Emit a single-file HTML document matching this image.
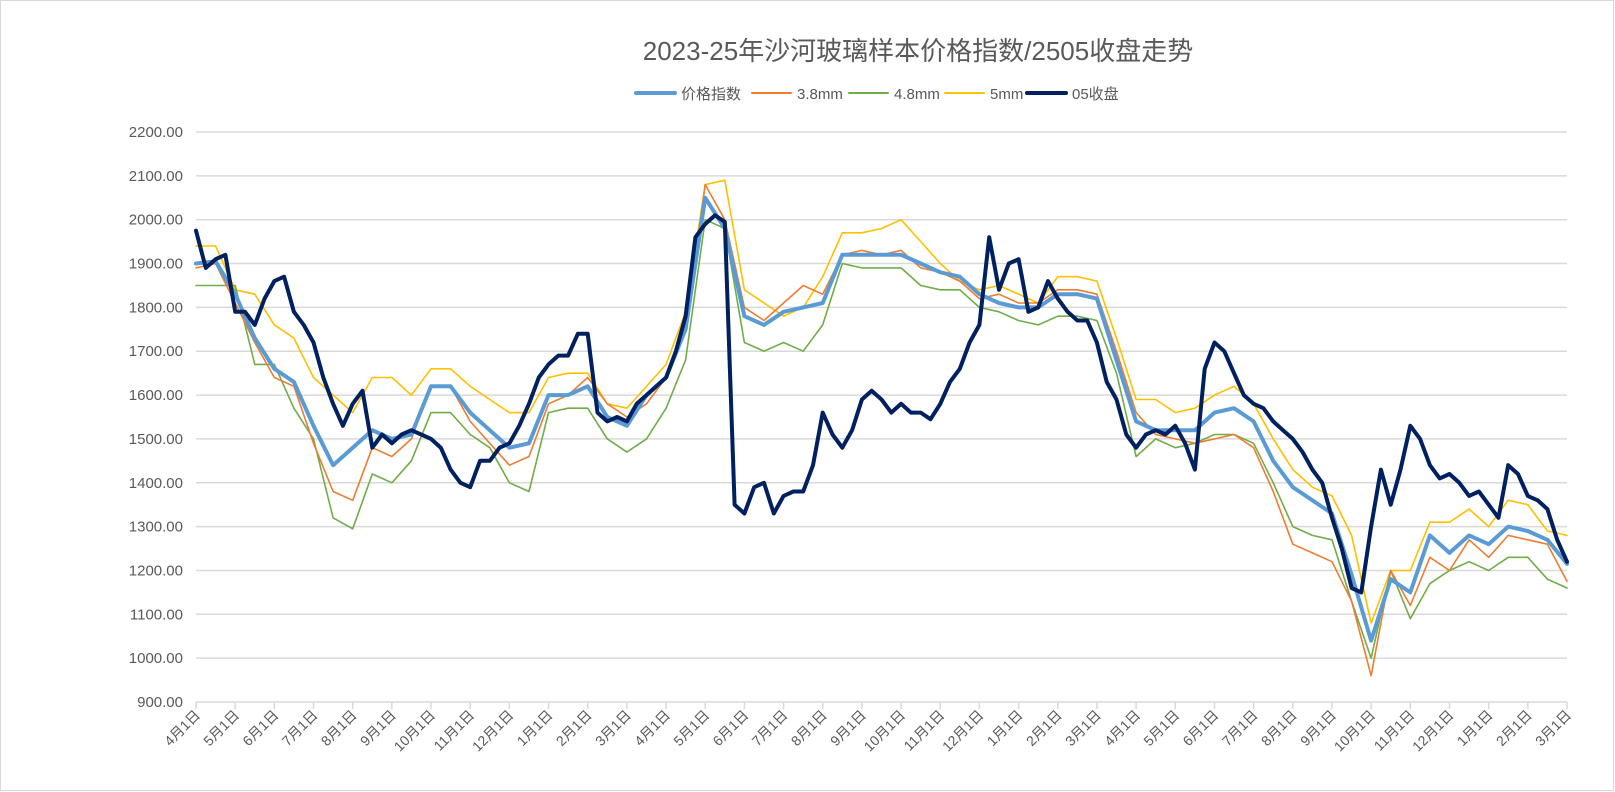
<!DOCTYPE html>
<html><head><meta charset="utf-8">
<style>
html,body{margin:0;padding:0;background:#fff;}
svg{display:block;font-family:"Liberation Sans","Noto Sans CJK SC",sans-serif;}
</style></head>
<body>
<svg id="chart" width="1615" height="792" viewBox="0 0 1615 792">
<rect x="0.5" y="0.5" width="1613" height="790" fill="#fff" stroke="#d9d9d9"/>
<text x="918" y="60" text-anchor="middle" font-size="26" fill="#595959">2023-25年沙河玻璃样本价格指数/2505收盘走势</text>
<g id="grid"></g>
<g id="yaxis"></g>
<g id="xaxis"></g>
<g id="series"></g>
<g id="legend"></g>
</svg>
<script>
const monthLabels=["4月1日","5月1日","6月1日","7月1日","8月1日","9月1日","10月1日","11月1日","12月1日","1月1日","2月1日","3月1日","4月1日","5月1日","6月1日","7月1日","8月1日","9月1日","10月1日","11月1日","12月1日","1月1日","2月1日","3月1日","4月1日","5月1日","6月1日","7月1日","8月1日","9月1日","10月1日","11月1日","12月1日","1月1日","2月1日","3月1日"];
const yTicks=[900,1000,1100,1200,1300,1400,1500,1600,1700,1800,1900,2000,2100,2200];
// half-month samples
const indexVals=[1900,1905,1830,1730,1660,1630,1530,1440,1480,1520,1500,1510,1620,1620,1560,1520,1480,1490,1600,1600,1620,1550,1530,1600,1640,1750,2050,1980,1780,1760,1790,1800,1810,1920,1920,1920,1920,1900,1880,1870,1830,1810,1800,1800,1830,1830,1820,1680,1540,1520,1520,1520,1560,1570,1540,1450,1390,1360,1330,1190,1040,1180,1150,1280,1240,1280,1260,1300,1290,1270,1215];
const mm38Vals=[1890,1900,1810,1720,1640,1620,1490,1380,1360,1480,1460,1500,1620,1620,1540,1490,1440,1460,1580,1600,1640,1580,1550,1580,1640,1750,2080,2000,1800,1770,1810,1850,1830,1920,1930,1920,1930,1890,1880,1860,1820,1830,1810,1810,1840,1840,1830,1700,1560,1510,1500,1490,1500,1510,1480,1380,1260,1240,1220,1130,960,1200,1120,1230,1200,1270,1230,1280,1270,1260,1175];
const mm48Vals=[1850,1850,1850,1670,1670,1570,1500,1320,1295,1420,1400,1450,1560,1560,1510,1480,1400,1380,1560,1570,1570,1500,1470,1500,1570,1680,2000,1980,1720,1700,1720,1700,1760,1900,1890,1890,1890,1850,1840,1840,1800,1790,1770,1760,1780,1780,1770,1650,1460,1500,1480,1490,1510,1510,1490,1400,1300,1280,1270,1130,1000,1200,1090,1170,1200,1220,1200,1230,1230,1180,1160];
const mm5Vals=[1940,1940,1840,1830,1760,1730,1640,1600,1560,1640,1640,1600,1660,1660,1620,1590,1560,1560,1640,1650,1650,1580,1570,1620,1670,1790,2080,2090,1840,1810,1780,1800,1870,1970,1970,1980,2000,1950,1900,1860,1840,1850,1830,1810,1870,1870,1860,1730,1590,1590,1560,1570,1600,1620,1580,1500,1430,1390,1370,1280,1080,1200,1200,1310,1310,1340,1300,1360,1350,1290,1280];
// quarter-month samples
const closeVals=[1975,1890,1910,1920,1790,1790,1760,1820,1860,1870,1790,1760,1720,1640,1580,1530,1580,1610,1480,1510,1490,1510,1520,1510,1500,1480,1430,1400,1390,1450,1450,1480,1490,1530,1580,1640,1670,1690,1690,1740,1740,1560,1540,1550,1540,1580,1600,1620,1640,1700,1780,1960,1990,2010,1995,1350,1330,1390,1400,1330,1370,1380,1380,1440,1560,1510,1480,1520,1590,1610,1590,1560,1580,1560,1560,1545,1580,1630,1660,1720,1760,1960,1840,1900,1910,1790,1800,1860,1820,1790,1770,1770,1720,1630,1590,1510,1480,1510,1520,1510,1530,1490,1430,1660,1720,1700,1650,1600,1580,1570,1540,1520,1500,1470,1430,1400,1320,1250,1160,1150,1300,1430,1350,1430,1530,1500,1440,1410,1420,1400,1370,1380,1350,1320,1440,1420,1370,1360,1340,1270,1220];

const X0=196,X1=1567,Y0=702,Y1=132,VMIN=900,VMAX=2200,NM=35;
function xMonth(m){return X0+(X1-X0)*m/NM;}
function yVal(v){return Y0-(v-VMIN)*(Y0-Y1)/(VMAX-VMIN);}
const NS="http://www.w3.org/2000/svg";
function mk(tag,attrs,parent){const e=document.createElementNS(NS,tag);for(const k in attrs)e.setAttribute(k,attrs[k]);parent.appendChild(e);return e;}

const grid=document.getElementById('grid'),yax=document.getElementById('yaxis'),xax=document.getElementById('xaxis');
yTicks.forEach(v=>{
  const y=yVal(v);
  if(v>VMIN){const l=mk('line',{x1:X0,x2:X1,y1:y,y2:y,stroke:'#d9d9d9','stroke-width':1.5},grid);
    
    }
  const t=mk('text',{x:183,y:y+5,'text-anchor':'end','font-size':15,fill:'#595959'},yax);
  t.textContent=v.toFixed(2);
  
  
});
const axl=mk('line',{x1:X0,x2:X1,y1:Y0,y2:Y0,stroke:'#d9d9d9','stroke-width':1.5},xax);


monthLabels.forEach((lab,m)=>{
  const x=xMonth(m);
  const tk=mk('line',{x1:x,x2:x,y1:Y0,y2:Y0+7,stroke:'#d9d9d9','stroke-width':1.5},xax);
  
  
  const t=mk('text',{x:0,y:0,'text-anchor':'end','font-size':14,fill:'#595959',transform:`translate(${x+5},${Y0+14}) rotate(-45)`},xax);
  t.textContent=lab;
  
  
});

const ser=document.getElementById('series');
const defs=[
 {vals:mm5Vals,step:0.5,color:'#ffc000',w:1.6,name:'series-5mm'},
 {vals:mm48Vals,step:0.5,color:'#70ad47',w:1.6,name:'series-4-8mm'},
 {vals:mm38Vals,step:0.5,color:'#ed7d31',w:1.6,name:'series-3-8mm'},
 {vals:indexVals,step:0.5,color:'#5b9bd5',w:4,name:'series-price-index'},
 {vals:closeVals,step:0.25,color:'#002060',w:4,name:'series-05-close'}
];
defs.forEach(d=>{
  const pts=d.vals.map((v,i)=>xMonth(i*d.step).toFixed(1)+','+yVal(v).toFixed(1)).join(' ');
  const p=mk('polyline',{points:pts,fill:'none',stroke:d.color,'stroke-width':d.w,'stroke-linejoin':'round','stroke-linecap':'round'},ser);
  
  
});

const leg=document.getElementById('legend');
const legItems=[
 {x:636,color:'#5b9bd5',w:4,label:'价格指数'},
 {x:752,color:'#ed7d31',w:2,label:'3.8mm'},
 {x:849,color:'#70ad47',w:2,label:'4.8mm'},
 {x:945,color:'#ffc000',w:2,label:'5mm'},
 {x:1027,color:'#002060',w:4,label:'05收盘'}
];
legItems.forEach(it=>{
  const g=mk('g',{},leg);
  
  
  mk('line',{x1:it.x,x2:it.x+39,y1:93,y2:93,stroke:it.color,'stroke-width':it.w,'stroke-linecap':'round'},g);
  const t=mk('text',{x:it.x+45,y:99,'font-size':15,fill:'#595959'},g);
  t.textContent=it.label;
});
</script>
</body></html>
